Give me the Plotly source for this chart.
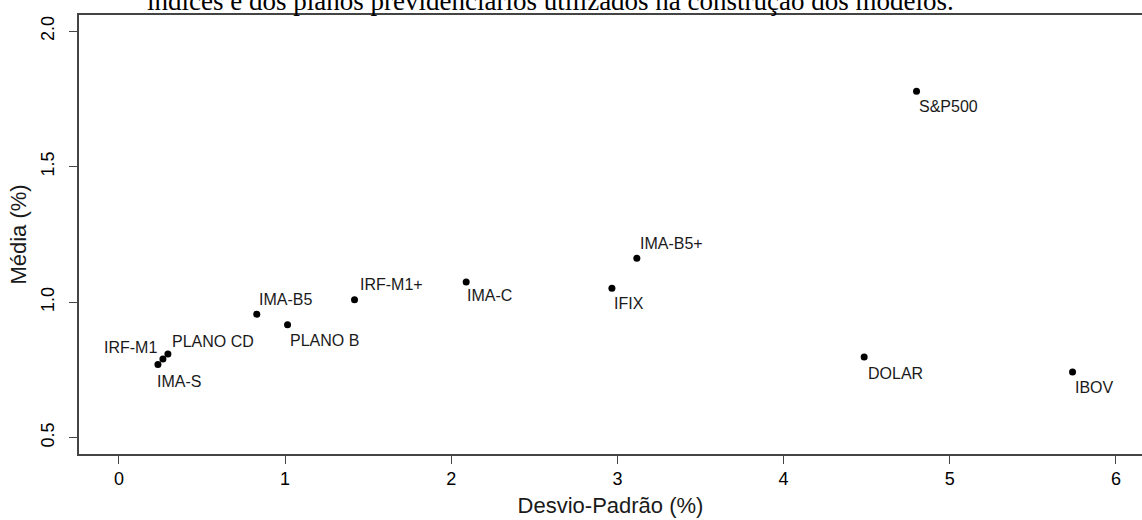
import plotly.graph_objects as go

# Data
labels = ["S&P500", "IMA-B5+", "IFIX", "IMA-C", "IRF-M1+", "IMA-B5", "PLANO B",
          "PLANO CD", "IRF-M1", "IMA-S", "DOLAR", "IBOV"]
desvio = [4.80, 3.117, 2.967, 2.09, 1.418, 0.830, 1.015, 0.295, 0.265, 0.235, 4.485, 5.739]
media = [1.779, 1.162, 1.052, 1.075, 1.009, 0.956, 0.917, 0.809, 0.791, 0.770, 0.798, 0.743]
# label placement: (xanchor, xshift, yshift)
placement = {
    "S&P500": ("left", 0, -15),
    "IMA-B5+": ("left", 1, 15),
    "IFIX": ("left", 0, -15),
    "IMA-C": ("left", -1, -14),
    "IRF-M1+": ("left", 3, 15),
    "IMA-B5": ("left", 0, 15),
    "PLANO B": ("left", 0, -16),
    "PLANO CD": ("left", 2, 13),
    "IRF-M1": ("right", -4, 11),
    "IMA-S": ("left", -3, -17),
    "DOLAR": ("left", 2, -17),
    "IBOV": ("left", 0, -16),
}

x_ticks = [0, 1, 2, 3, 4, 5, 6]
y_ticks = [0.5, 1.0, 1.5, 2.0]
y_ticklabels = ["0.5", "1.0", "1.5", "2.0"]

caption = "índices e dos planos previdenciários utilizados na construção dos modelos."

font_sans = "Liberation Sans, Arial, sans-serif"

fig = go.Figure()
fig.add_trace(go.Scatter(
    x=desvio, y=media, mode="markers",
    marker=dict(color="black", size=7),
    hoverinfo="skip", showlegend=False,
))

annotations = []
for lab, xv, yv in zip(labels, desvio, media):
    xa, xs, ys = placement[lab]
    annotations.append(dict(
        x=xv, y=yv, xref="x", yref="y", text=lab, showarrow=False,
        xanchor=xa, yanchor="middle", xshift=xs, yshift=ys,
        font=dict(family=font_sans, size=16, color="#1a1a1a"),
    ))

annotations.append(dict(
    x=0.5, y=1, xref="paper", yref="paper", text=caption, showarrow=False,
    xanchor="center", yanchor="bottom", xshift=-60, yshift=-3,
    font=dict(family="Liberation Serif, Times New Roman, serif", size=27, color="black"),
))

fig.update_layout(
    width=1142, height=520,
    margin=dict(l=79, r=0, t=15, b=66, autoexpand=False),
    paper_bgcolor="white", plot_bgcolor="white",
    annotations=annotations,
    xaxis=dict(
        range=[-0.24, 6.157], tickvals=x_ticks, ticktext=[str(v) for v in x_ticks],
        automargin=False,
        showgrid=False, zeroline=False,
        showline=True, linecolor="#444", linewidth=1.5, mirror=True,
        ticks="outside", ticklen=8, tickcolor="#444",
        tickfont=dict(family=font_sans, size=18, color="black"),
        title=dict(text="Desvio-Padrão (%)", font=dict(family=font_sans, size=22, color="#1a1a1a"), standoff=9),
    ),
    yaxis=dict(
        range=[0.44, 2.06], tickvals=y_ticks, ticktext=y_ticklabels, tickangle=-90,
        automargin=False, ticklabelstandoff=8,
        showgrid=False, zeroline=False,
        showline=True, linecolor="#444", linewidth=1.5, mirror=False,
        ticks="outside", ticklen=8, tickcolor="#444",
        tickfont=dict(family=font_sans, size=18, color="black"),
        title=dict(text="Média (%)", font=dict(family=font_sans, size=22, color="#1a1a1a"), standoff=5),
    ),
)

fig.write_html("out.html", config={"displayModeBar": False},
               post_script="document.body.style.margin='0px';")
